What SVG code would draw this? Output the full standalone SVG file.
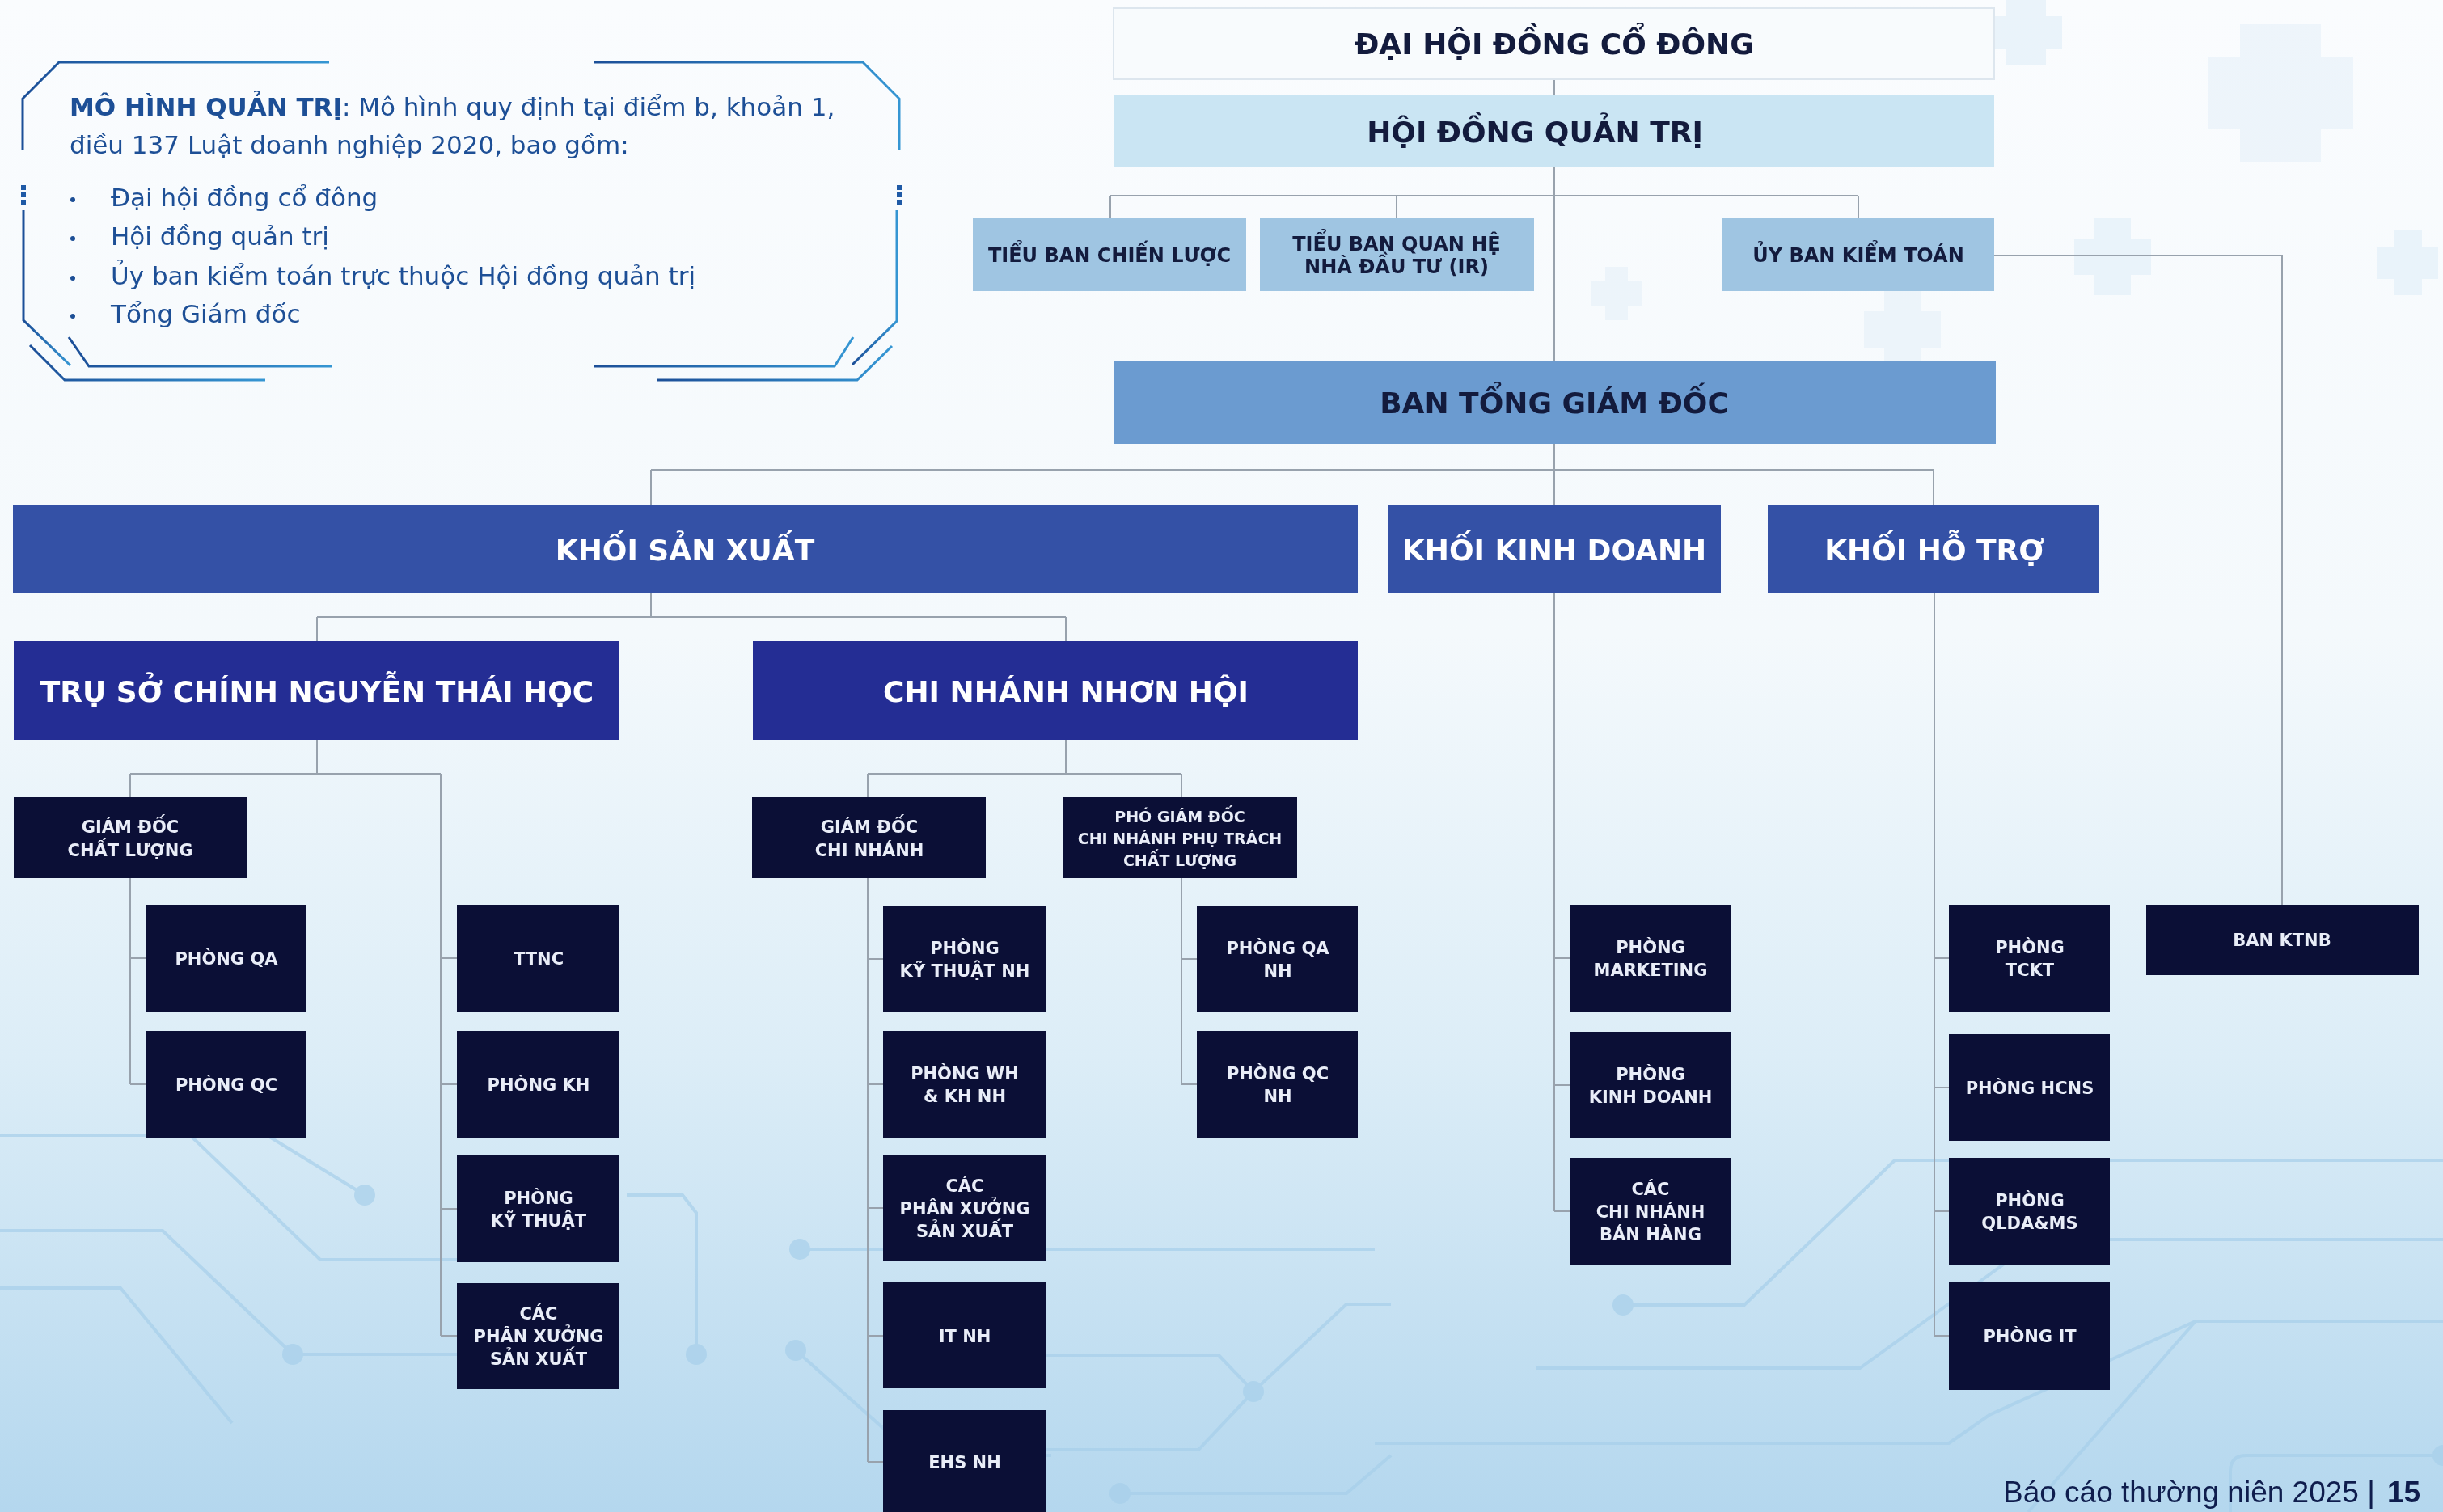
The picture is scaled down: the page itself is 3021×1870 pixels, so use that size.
<svg xmlns="http://www.w3.org/2000/svg" width="3021" height="1870" viewBox="0 0 3021 1870">
<defs>
<linearGradient id="bg" x1="0" y1="0" x2="0" y2="1">
<stop offset="0" stop-color="#fafcfe"/>
<stop offset="0.42" stop-color="#f4f9fc"/>
<stop offset="0.7" stop-color="#dcedf7"/>
<stop offset="1" stop-color="#b4d7ee"/>
</linearGradient>
<linearGradient id="frame" x1="0" y1="0" x2="1" y2="0">
<stop offset="0" stop-color="#1c4f98"/>
<stop offset="1" stop-color="#3596d3"/>
</linearGradient>
<style>
.lbl{font-family:"DejaVu Sans","Liberation Sans",sans-serif;font-weight:bold;text-anchor:middle}
.big{font-size:36px}
.mid{font-size:24px}
.sm{font-size:21px}
.xs{font-size:19px}
.ink{fill:#131b3d}
.lt{fill:#e9edf8}
.wh{fill:#ffffff}
.dk{fill:#0b0f36}
.conn{stroke:#98a2ad;stroke-width:2;fill:none}
.deco{stroke:#a6cfea;stroke-width:4;fill:none}
.dot{fill:#a6cfea}
.plus{fill:#e3eff8}
.fr{stroke:url(#frame);stroke-width:3;fill:none}
.info{font-family:"DejaVu Sans","Liberation Sans",sans-serif;font-size:31px;fill:#1d4f96}
</style>
</defs>
<rect x="0" y="0" width="3021" height="1870" fill="url(#bg)"/>

<g id="background-decor" opacity="0.7">
<path class="plus" d="M2480 0h50v20h20v40h-20v20h-50v-20h-20v-40h20z"/>
<path class="plus" d="M2770 30h100v40h40v90h-40v40h-100v-40h-40v-90h40z" opacity="0.8"/>
<path class="plus" d="M2590 270h45v25h25v45h-25v25h-45v-25h-25v-45h25z"/>
<path class="plus" d="M2330 360h45v25h25v45h-25v25h-45v-25h-25v-45h25z" opacity="0.8"/>
<path class="plus" d="M1985 330h28v18h18v30h-18v18h-28v-18h-18v-30h18z" opacity="0.8"/>
<path class="plus" d="M2960 285h35v20h20v40h-20v20h-35v-20h-20v-40h20z"/>
<polyline class="deco" points="0,1404 235,1404 396,1558 741,1558"/>
<polyline class="deco" points="330,1404 451,1478"/>
<circle class="dot" cx="451" cy="1478" r="13"/>
<polyline class="deco" points="0,1522 201,1522 362,1675 568,1675"/>
<circle class="dot" cx="362" cy="1675" r="13"/>
<polyline class="deco" points="0,1593 149,1593 287,1760"/>
<polyline class="deco" points="775,1478 844,1478 861,1500 861,1675"/>
<circle class="dot" cx="861" cy="1675" r="13"/>
<polyline class="deco" points="989,1545 1700,1545"/>
<circle class="dot" cx="989" cy="1545" r="13"/>
<polyline class="deco" points="984,1670 1130,1800 1300,1800"/>
<circle class="dot" cx="984" cy="1670" r="13"/>
<polyline class="deco" points="1293,1676 1507,1676 1550,1721 1665,1613 1720,1613"/>
<circle class="dot" cx="1550" cy="1721" r="13"/>
<polyline class="deco" points="1293,1793 1482,1793 1550,1721"/>
<polyline class="deco" points="1385,1847 1665,1847 1720,1800"/>
<circle class="dot" cx="1385" cy="1847" r="13"/>
<polyline class="deco" points="2007,1614 2157,1614 2343,1435 3021,1435"/>
<circle class="dot" cx="2007" cy="1614" r="13"/>
<polyline class="deco" points="1900,1692 2300,1692 2520,1533 3021,1533"/>
<polyline class="deco" points="1700,1785 2410,1785 2460,1750 2715,1634 3021,1634"/>
<polyline class="deco" points="2508,1870 2715,1634"/>
<path class="deco" d="M2758 1870V1820q0-20 20-20H3021"/>
<circle class="dot" cx="3021" cy="1800" r="13"/>
</g>

<g id="info-panel">
<path class="fr" d="M407 77H73L28 122V186"/>
<path class="fr" d="M734 77H1067L1112 122V186"/>
<path class="fr" d="M29 260V396L87 452"/>
<path class="fr" d="M85 417L110 453H411"/>
<path class="fr" d="M37 427L80 470H328"/>
<path class="fr" d="M1109 260V397L1054 451"/>
<path class="fr" d="M1055 417L1032 453H735"/>
<path class="fr" d="M1103 428L1060 470H813"/>
<g fill="#1f5aa6">
<rect x="26" y="229" width="6" height="6"/><rect x="26" y="238" width="6" height="6"/><rect x="26" y="247" width="6" height="6"/>
<rect x="1109" y="229" width="6" height="6"/><rect x="1109" y="238" width="6" height="6"/><rect x="1109" y="247" width="6" height="6"/>
</g>
<text class="info" x="86" y="143"><tspan font-weight="bold">MÔ HÌNH QUẢN TRỊ</tspan>: Mô hình quy định tại điểm b, khoản 1,</text>
<text class="info" x="86" y="190">điều 137 Luật doanh nghiệp 2020, bao gồm:</text>
<g fill="#1d4f96">
<circle cx="90" cy="247" r="3"/><circle cx="90" cy="295" r="3"/><circle cx="90" cy="344" r="3"/><circle cx="90" cy="391" r="3"/>
</g>
<text class="info" x="137" y="255">Đại hội đồng cổ đông</text>
<text class="info" x="137" y="303">Hội đồng quản trị</text>
<text class="info" x="137" y="352">Ủy ban kiểm toán trực thuộc Hội đồng quản trị</text>
<text class="info" x="137" y="399">Tổng Giám đốc</text>
</g>

<g id="connectors">
<line class="conn" x1="1922" y1="98" x2="1922" y2="118"/>
<line class="conn" x1="1922" y1="207" x2="1922" y2="446"/>
<line class="conn" x1="1373" y1="242" x2="2298" y2="242"/>
<line class="conn" x1="1373" y1="242" x2="1373" y2="270"/>
<line class="conn" x1="1727" y1="242" x2="1727" y2="270"/>
<line class="conn" x1="2298" y1="242" x2="2298" y2="270"/>
<polyline class="conn" points="2466,316 2822,316 2822,1119"/>
<line class="conn" x1="1922" y1="549" x2="1922" y2="625"/>
<line class="conn" x1="805" y1="581" x2="2391" y2="581"/>
<line class="conn" x1="805" y1="581" x2="805" y2="625"/>
<line class="conn" x1="2391" y1="581" x2="2391" y2="625"/>
<line class="conn" x1="805" y1="733" x2="805" y2="763"/>
<line class="conn" x1="392" y1="763" x2="1318" y2="763"/>
<line class="conn" x1="392" y1="763" x2="392" y2="793"/>
<line class="conn" x1="1318" y1="763" x2="1318" y2="793"/>
<line class="conn" x1="392" y1="915" x2="392" y2="957"/>
<line class="conn" x1="161" y1="957" x2="545" y2="957"/>
<line class="conn" x1="161" y1="957" x2="161" y2="1341"/>
<line class="conn" x1="161" y1="1185" x2="180" y2="1185"/>
<line class="conn" x1="161" y1="1341" x2="180" y2="1341"/>
<line class="conn" x1="545" y1="957" x2="545" y2="1652"/>
<line class="conn" x1="545" y1="1185" x2="565" y2="1185"/>
<line class="conn" x1="545" y1="1341" x2="565" y2="1341"/>
<line class="conn" x1="545" y1="1495" x2="565" y2="1495"/>
<line class="conn" x1="545" y1="1652" x2="565" y2="1652"/>
<line class="conn" x1="1318" y1="915" x2="1318" y2="957"/>
<line class="conn" x1="1073" y1="957" x2="1461" y2="957"/>
<line class="conn" x1="1073" y1="957" x2="1073" y2="1808"/>
<line class="conn" x1="1073" y1="1186" x2="1092" y2="1186"/>
<line class="conn" x1="1073" y1="1341" x2="1092" y2="1341"/>
<line class="conn" x1="1073" y1="1494" x2="1092" y2="1494"/>
<line class="conn" x1="1073" y1="1652" x2="1092" y2="1652"/>
<line class="conn" x1="1073" y1="1808" x2="1092" y2="1808"/>
<line class="conn" x1="1461" y1="957" x2="1461" y2="1341"/>
<line class="conn" x1="1461" y1="1186" x2="1480" y2="1186"/>
<line class="conn" x1="1461" y1="1341" x2="1480" y2="1341"/>
<line class="conn" x1="1922" y1="733" x2="1922" y2="1498"/>
<line class="conn" x1="1922" y1="1185" x2="1941" y2="1185"/>
<line class="conn" x1="1922" y1="1342" x2="1941" y2="1342"/>
<line class="conn" x1="1922" y1="1498" x2="1941" y2="1498"/>
<line class="conn" x1="2392" y1="733" x2="2392" y2="1652"/>
<line class="conn" x1="2392" y1="1185" x2="2410" y2="1185"/>
<line class="conn" x1="2392" y1="1345" x2="2410" y2="1345"/>
<line class="conn" x1="2392" y1="1498" x2="2410" y2="1498"/>
<line class="conn" x1="2392" y1="1652" x2="2410" y2="1652"/>
</g>

<g id="dhdcd"><rect x="1377" y="10" width="1089" height="88" fill="#f8fbfd" stroke="#dde6ee" stroke-width="2"/><text class="lbl big ink" x="1922" y="67">ĐẠI HỘI ĐỒNG CỔ ĐÔNG</text></g>
<g id="hdqt"><rect x="1377" y="118" width="1089" height="89" fill="#cae5f3"/><text class="lbl big ink" x="1898" y="176">HỘI ĐỒNG QUẢN TRỊ</text></g>
<g id="tb-chien-luoc"><rect x="1203" y="270" width="338" height="90" fill="#9fc5e2"/><text class="lbl mid ink" x="1372" y="324">TIỂU BAN CHIẾN LƯỢC</text></g>
<g id="tb-ir"><rect x="1558" y="270" width="339" height="90" fill="#9fc5e2"/><text class="lbl mid ink" x="1727" y="310">TIỂU BAN QUAN HỆ</text><text class="lbl mid ink" x="1727" y="338">NHÀ ĐẦU TƯ (IR)</text></g>
<g id="ub-kiem-toan"><rect x="2130" y="270" width="336" height="90" fill="#9fc5e2"/><text class="lbl mid ink" x="2298" y="324">ỦY BAN KIỂM TOÁN</text></g>
<g id="btgd"><rect x="1377" y="446" width="1091" height="103" fill="#6b9bd0"/><text class="lbl big ink" x="1922" y="511">BAN TỔNG GIÁM ĐỐC</text></g>
<g id="khoi-san-xuat"><rect x="16" y="625" width="1663" height="108" fill="#3451a6"/><text class="lbl big wh" x="847" y="693">KHỐI SẢN XUẤT</text></g>
<g id="khoi-kinh-doanh"><rect x="1717" y="625" width="411" height="108" fill="#3451a6"/><text class="lbl big wh" x="1922" y="693">KHỐI KINH DOANH</text></g>
<g id="khoi-ho-tro"><rect x="2186" y="625" width="410" height="108" fill="#3451a6"/><text class="lbl big wh" x="2392" y="693">KHỐI HỖ TRỢ</text></g>
<g id="tru-so"><rect x="17" y="793" width="748" height="122" fill="#242d94"/><text class="lbl big wh" x="392" y="868">TRỤ SỞ CHÍNH NGUYỄN THÁI HỌC</text></g>
<g id="chi-nhanh"><rect x="931" y="793" width="748" height="122" fill="#242d94"/><text class="lbl big wh" x="1318" y="868">CHI NHÁNH NHƠN HỘI</text></g>

<g id="gd-chat-luong"><rect class="dk" x="17" y="986" width="289" height="100"/><text class="lbl sm lt" x="161" y="1030">GIÁM ĐỐC</text><text class="lbl sm lt" x="161" y="1059">CHẤT LƯỢNG</text></g>
<g id="phong-qa"><rect class="dk" x="180" y="1119" width="199" height="132"/><text class="lbl sm lt" x="280" y="1193">PHÒNG QA</text></g>
<g id="phong-qc"><rect class="dk" x="180" y="1275" width="199" height="132"/><text class="lbl sm lt" x="280" y="1349">PHÒNG QC</text></g>
<g id="ttnc"><rect class="dk" x="565" y="1119" width="201" height="132"/><text class="lbl sm lt" x="666" y="1193">TTNC</text></g>
<g id="phong-kh"><rect class="dk" x="565" y="1275" width="201" height="132"/><text class="lbl sm lt" x="666" y="1349">PHÒNG KH</text></g>
<g id="phong-ky-thuat"><rect class="dk" x="565" y="1429" width="201" height="132"/><text class="lbl sm lt" x="666" y="1489">PHÒNG</text><text class="lbl sm lt" x="666" y="1517">KỸ THUẬT</text></g>
<g id="phan-xuong-ts"><rect class="dk" x="565" y="1587" width="201" height="131"/><text class="lbl sm lt" x="666" y="1632">CÁC</text><text class="lbl sm lt" x="666" y="1660">PHÂN XƯỞNG</text><text class="lbl sm lt" x="666" y="1688">SẢN XUẤT</text></g>

<g id="gd-chi-nhanh"><rect class="dk" x="930" y="986" width="289" height="100"/><text class="lbl sm lt" x="1075" y="1030">GIÁM ĐỐC</text><text class="lbl sm lt" x="1075" y="1059">CHI NHÁNH</text></g>
<g id="pho-gd-chi-nhanh"><rect class="dk" x="1314" y="986" width="290" height="100"/><text class="lbl xs lt" x="1459" y="1017">PHÓ GIÁM ĐỐC</text><text class="lbl xs lt" x="1459" y="1044">CHI NHÁNH PHỤ TRÁCH</text><text class="lbl xs lt" x="1459" y="1071">CHẤT LƯỢNG</text></g>
<g id="phong-ky-thuat-nh"><rect class="dk" x="1092" y="1121" width="201" height="130"/><text class="lbl sm lt" x="1193" y="1180">PHÒNG</text><text class="lbl sm lt" x="1193" y="1208">KỸ THUẬT NH</text></g>
<g id="phong-wh-kh-nh"><rect class="dk" x="1092" y="1275" width="201" height="132"/><text class="lbl sm lt" x="1193" y="1335">PHÒNG WH</text><text class="lbl sm lt" x="1193" y="1363">&amp; KH NH</text></g>
<g id="phan-xuong-nh"><rect class="dk" x="1092" y="1428" width="201" height="131"/><text class="lbl sm lt" x="1193" y="1474">CÁC</text><text class="lbl sm lt" x="1193" y="1502">PHÂN XƯỞNG</text><text class="lbl sm lt" x="1193" y="1530">SẢN XUẤT</text></g>
<g id="it-nh"><rect class="dk" x="1092" y="1586" width="201" height="131"/><text class="lbl sm lt" x="1193" y="1660">IT NH</text></g>
<g id="ehs-nh"><rect class="dk" x="1092" y="1744" width="201" height="140"/><text class="lbl sm lt" x="1193" y="1816">EHS NH</text></g>
<g id="phong-qa-nh"><rect class="dk" x="1480" y="1121" width="199" height="130"/><text class="lbl sm lt" x="1580" y="1180">PHÒNG QA</text><text class="lbl sm lt" x="1580" y="1208">NH</text></g>
<g id="phong-qc-nh"><rect class="dk" x="1480" y="1275" width="199" height="132"/><text class="lbl sm lt" x="1580" y="1335">PHÒNG QC</text><text class="lbl sm lt" x="1580" y="1363">NH</text></g>

<g id="phong-marketing"><rect class="dk" x="1941" y="1119" width="200" height="132"/><text class="lbl sm lt" x="2041" y="1179">PHÒNG</text><text class="lbl sm lt" x="2041" y="1207">MARKETING</text></g>
<g id="phong-kinh-doanh"><rect class="dk" x="1941" y="1276" width="200" height="132"/><text class="lbl sm lt" x="2041" y="1336">PHÒNG</text><text class="lbl sm lt" x="2041" y="1364">KINH DOANH</text></g>
<g id="chi-nhanh-ban-hang"><rect class="dk" x="1941" y="1432" width="200" height="132"/><text class="lbl sm lt" x="2041" y="1478">CÁC</text><text class="lbl sm lt" x="2041" y="1506">CHI NHÁNH</text><text class="lbl sm lt" x="2041" y="1534">BÁN HÀNG</text></g>

<g id="phong-tckt"><rect class="dk" x="2410" y="1119" width="199" height="132"/><text class="lbl sm lt" x="2510" y="1179">PHÒNG</text><text class="lbl sm lt" x="2510" y="1207">TCKT</text></g>
<g id="phong-hcns"><rect class="dk" x="2410" y="1279" width="199" height="132"/><text class="lbl sm lt" x="2510" y="1353">PHÒNG HCNS</text></g>
<g id="phong-qlda"><rect class="dk" x="2410" y="1432" width="199" height="132"/><text class="lbl sm lt" x="2510" y="1492">PHÒNG</text><text class="lbl sm lt" x="2510" y="1520">QLDA&amp;MS</text></g>
<g id="phong-it"><rect class="dk" x="2410" y="1586" width="199" height="133"/><text class="lbl sm lt" x="2510" y="1660">PHÒNG IT</text></g>
<g id="ban-ktnb"><rect class="dk" x="2654" y="1119" width="337" height="87"/><text class="lbl sm lt" x="2822" y="1170">BAN KTNB</text></g>

<text x="2477" y="1858" font-family="Liberation Sans, Arial, sans-serif" font-size="37" fill="#0f1d4d">Báo cáo thường niên 2025 |<tspan x="2952" font-weight="bold">15</tspan></text>
</svg>
